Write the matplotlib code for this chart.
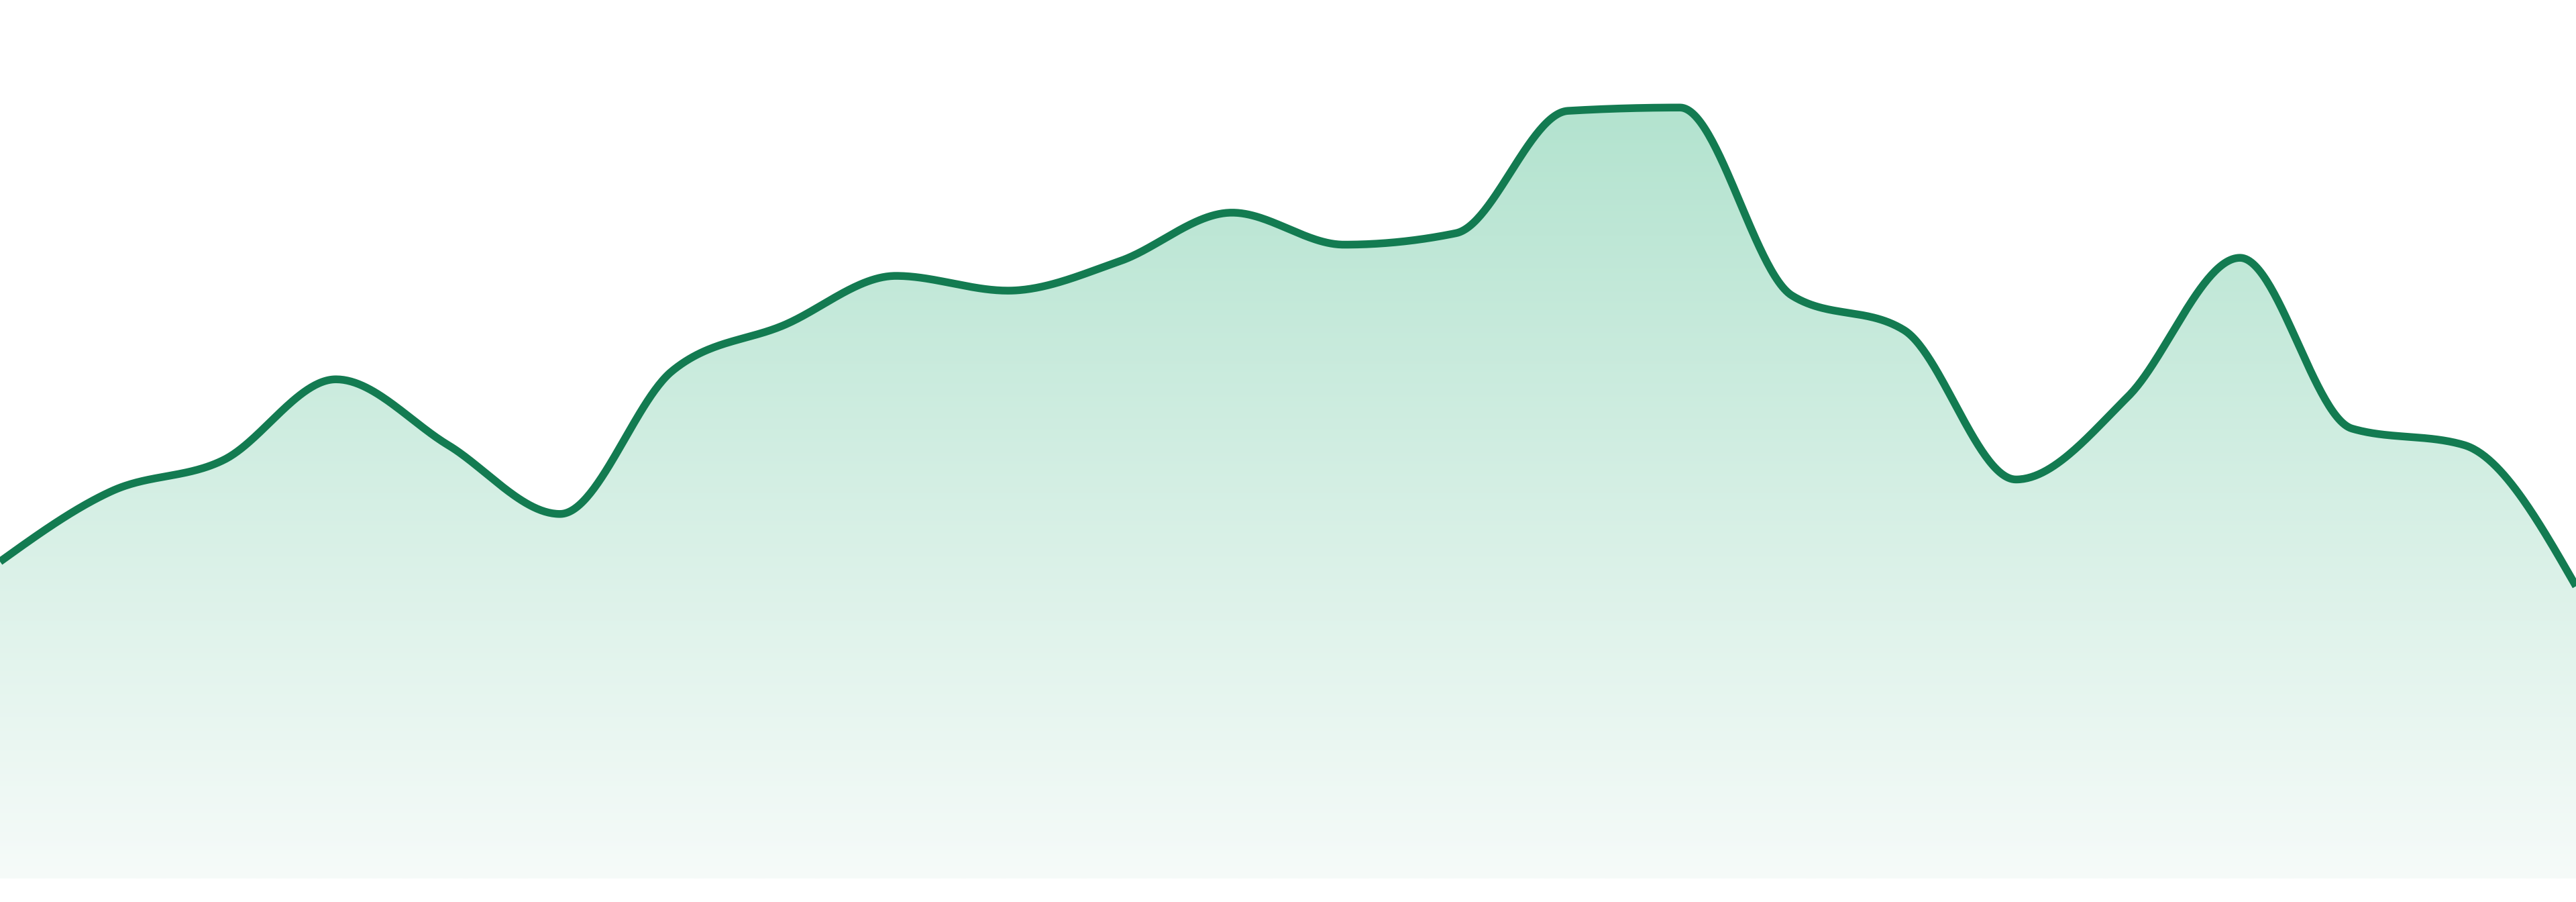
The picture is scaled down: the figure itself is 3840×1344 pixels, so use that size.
import numpy as np
import matplotlib
matplotlib.use("Agg")
import matplotlib.pyplot as plt
from matplotlib.patches import PathPatch
from matplotlib.path import Path

# ---- data ----
points = list(range(24))
values = [193, 236, 255, 304, 264, 222, 309, 337, 367, 358, 376, 405.5,
          386, 393, 467.5, 469.5, 355, 334, 243, 293.5, 378, 274, 264, 178]

LINE_COLOR = "#137b51"
TOP_FILL = np.array([0xb3, 0xe3, 0xcf]) / 255.0
BOT_FILL = np.array([0xf6, 0xfb, 0xf9]) / 255.0


def monotone_x(xs, ys, n=60):
    xs = np.asarray(xs, float)
    ys = np.asarray(ys, float)
    m = len(xs)
    sgn = lambda v: -1.0 if v < 0 else 1.0
    t = np.zeros(m)
    for i in range(1, m - 1):
        h0 = xs[i] - xs[i - 1]
        h1 = xs[i + 1] - xs[i]
        s0 = (ys[i] - ys[i - 1]) / h0
        s1 = (ys[i + 1] - ys[i]) / h1
        p = (s0 * h1 + s1 * h0) / (h0 + h1)
        t[i] = (sgn(s0) + sgn(s1)) * min(abs(s0), abs(s1), 0.5 * abs(p))
    h = xs[1] - xs[0]
    t[0] = (3 * (ys[1] - ys[0]) / h - t[1]) / 2
    h = xs[-1] - xs[-2]
    t[-1] = (3 * (ys[-1] - ys[-2]) / h - t[-2]) / 2
    px, py = [], []
    u = np.linspace(0, 1, n)
    for i in range(m - 1):
        x0, y0, x1, y1 = xs[i], ys[i], xs[i + 1], ys[i + 1]
        dx = (x1 - x0) / 3
        c = [(x0, y0), (x0 + dx, y0 + dx * t[i]), (x1 - dx, y1 - dx * t[i + 1]), (x1, y1)]
        b = [(1 - u) ** 3, 3 * (1 - u) ** 2 * u, 3 * (1 - u) * u ** 2, u ** 3]
        bx = sum(b[k] * c[k][0] for k in range(4))
        by = sum(b[k] * c[k][1] for k in range(4))
        if i > 0:
            bx, by = bx[1:], by[1:]
        px.append(bx)
        py.append(by)
    return np.concatenate(px), np.concatenate(py)


W, H, DPI = 3840, 1344, 100
fig = plt.figure(figsize=(W / DPI, H / DPI), dpi=DPI, facecolor="white")
base_px = 1309
ax = fig.add_axes([0, (H - base_px) / H, 1, base_px / H])
ax.set_xlim(points[0], points[-1])
ymax = 535
ax.set_ylim(0, ymax)
ax.axis("off")

cx, cy = monotone_x(points, values)

# gradient fill clipped to the area
vmax = max(values)
ny = 400
frac = np.linspace(0, 1, ny)[:, None]  # 0 at top (vmax), 1 at bottom (0)
grad = TOP_FILL[None, None, :] * (1 - frac[:, :, None]) + BOT_FILL[None, None, :] * frac[:, :, None]
grad = np.repeat(grad, 2, axis=1)
im = ax.imshow(grad, extent=[points[0], points[-1], 0, vmax], aspect="auto",
               origin="upper", zorder=1, interpolation="bilinear")
verts = np.column_stack([np.concatenate([cx, [cx[-1], cx[0]]]),
                         np.concatenate([cy, [0, 0]])])
clip = PathPatch(Path(verts), facecolor="none", edgecolor="none", transform=ax.transData)
ax.add_patch(clip)
im.set_clip_path(clip)

ax.plot(cx, cy, color=LINE_COLOR, linewidth=8.3, solid_capstyle="butt",
        solid_joinstyle="round", zorder=3, clip_on=False)

fig.savefig("out.png", dpi=DPI, facecolor="white")
